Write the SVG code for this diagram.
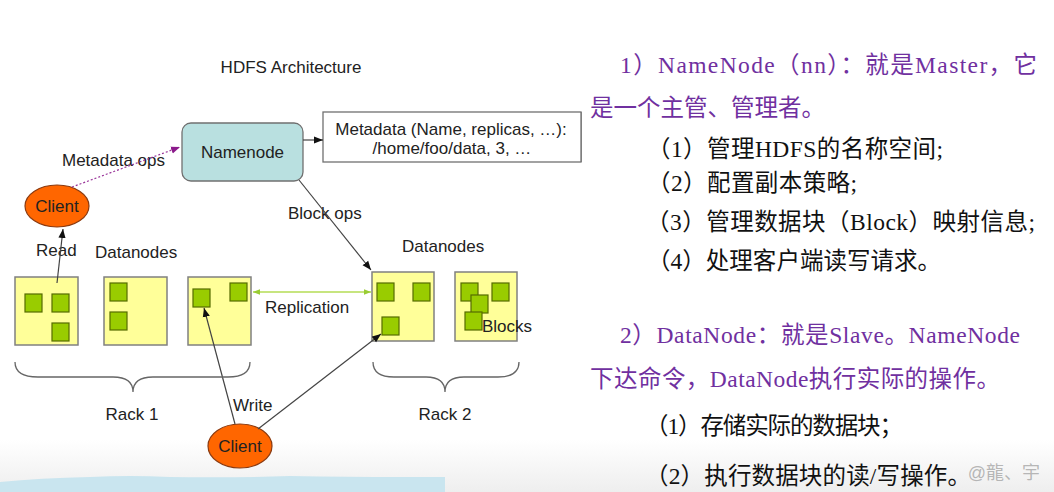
<svg xmlns="http://www.w3.org/2000/svg" width="1054" height="492" viewBox="0 0 1054 492">
<defs>
<style>
.lbl{font-family:"Liberation Sans",Arial,sans-serif;font-size:17px;fill:#222}
.ctr{text-anchor:middle}
.dn{fill:#ffff99;stroke:#808080;stroke-width:1.5}
.blk{fill:#99cc00;stroke:#556b00;stroke-width:1.2}
.conn{fill:none;stroke:#444;stroke-width:1.2}
.brace{fill:none;stroke:#666;stroke-width:1.3}
.cl{fill:#ff6600;stroke:#8a3a10;stroke-width:1.2}
.zh{font-family:"Liberation Serif","Noto Sans CJK SC",serif;font-size:23.5px}
.pu{fill:#7030a0}
.bk{fill:#111}
</style>
<marker id="ah" viewBox="0 0 10 10" refX="10" refY="5" markerWidth="9" markerHeight="9" markerUnits="userSpaceOnUse" orient="auto"><path d="M0,1 L10,5 L0,9 z" fill="#111"/></marker>
<marker id="ahp" viewBox="0 0 10 10" refX="10" refY="5" markerWidth="9" markerHeight="9" markerUnits="userSpaceOnUse" orient="auto"><path d="M0,1 L10,5 L0,9 z" fill="#8b1a8b"/></marker>
<marker id="ahg" viewBox="0 0 10 10" refX="10" refY="5" markerWidth="7" markerHeight="7" markerUnits="userSpaceOnUse" orient="auto-start-reverse"><path d="M0,1 L10,5 L0,9 z" fill="#99cc33"/></marker>
<linearGradient id="bg" x1="0" y1="0" x2="0" y2="1"><stop offset="0" stop-color="#ffffff"/><stop offset="1" stop-color="#eeeeee"/></linearGradient>
</defs>
<rect width="1054" height="492" fill="#fff"/>
<rect x="0" y="440" width="1054" height="52" fill="url(#bg)"/>
<path d="M0,482 Q40,478 90,477 Q130,475 170,477 Q230,478 290,476 Q350,477 400,477 L445,477 L445,492 L0,492 z" fill="#c9e5ef"/>
<rect x="580" y="112" width="2" height="50" fill="#9a9a9a"/>

<text class="lbl ctr" x="291" y="73">HDFS Architecture</text>

<g id="namenode">
<rect x="182" y="123" width="121" height="58" rx="9" fill="#b9e0e0" stroke="#707070" stroke-width="1.3"/>
<text class="lbl ctr" x="242.5" y="158">Namenode</text>
</g>
<g id="metadata">
<rect x="323" y="112" width="258" height="50" fill="#fff" stroke="#707070" stroke-width="1.3"/>
<text class="lbl ctr" x="451" y="135">Metadata (Name, replicas, …):</text>
<text class="lbl ctr" x="452" y="154">/home/foo/data, 3, …</text>
</g>
<g id="client-read">
<ellipse class="cl" cx="57" cy="206" rx="32" ry="21"/>
<text class="lbl ctr" x="57" y="212">Client</text>
</g>
<g id="client-write">
<ellipse class="cl" cx="240" cy="446" rx="32" ry="22"/>
<text class="lbl ctr" x="240" y="452">Client</text>
</g>

<g id="labels">
<text class="lbl" x="62" y="166">Metadata ops</text>
<text class="lbl" x="288" y="219">Block ops</text>
<text class="lbl" x="36" y="256">Read</text>
<text class="lbl" x="95" y="258">Datanodes</text>
<text class="lbl" x="402" y="252">Datanodes</text>
<text class="lbl" x="265" y="313">Replication</text>
<text class="lbl" x="233" y="411">Write</text>
<text class="lbl ctr" x="132" y="420">Rack 1</text>
<text class="lbl ctr" x="445" y="420">Rack 2</text>
</g>

<g id="datanode-1">
<rect class="dn" x="15" y="277" width="63" height="68"/>
<rect class="blk" x="25" y="294" width="17" height="18"/>
<rect class="blk" x="52" y="294" width="17" height="18"/>
<rect class="blk" x="52" y="323" width="17" height="18"/>
</g>
<g id="datanode-2">
<rect class="dn" x="104" y="277" width="63" height="68"/>
<rect class="blk" x="110" y="283" width="17" height="18"/>
<rect class="blk" x="110" y="312" width="17" height="18"/>
</g>
<g id="datanode-3">
<rect class="dn" x="188" y="277" width="63" height="68"/>
<rect class="blk" x="193" y="289" width="17" height="18"/>
<rect class="blk" x="230" y="283" width="17" height="18"/>
</g>
<g id="datanode-4">
<rect class="dn" x="372" y="272" width="62" height="69"/>
<rect class="blk" x="377" y="283" width="17" height="18"/>
<rect class="blk" x="413" y="283" width="17" height="18"/>
<rect class="blk" x="382" y="317" width="17" height="18"/>
</g>
<g id="datanode-5">
<rect class="dn" x="455" y="272" width="62" height="69"/>
<rect class="blk" x="461" y="283" width="17" height="18"/>
<rect class="blk" x="492" y="283" width="17" height="18"/>
<rect class="blk" x="471" y="295" width="17" height="18"/>
<rect class="blk" x="465" y="312" width="17" height="18"/>
<text class="lbl" x="482" y="332">Blocks</text>
</g>

<g id="connectors">
<line class="conn" x1="303" y1="140" x2="323" y2="140" marker-end="url(#ah)"/>
<line x1="72" y1="187" x2="180" y2="147" fill="none" stroke="#993399" stroke-width="1.2" stroke-dasharray="2,2" marker-end="url(#ahp)"/>
<line class="conn" x1="57" y1="283" x2="63" y2="229" marker-end="url(#ah)"/>
<line class="conn" x1="299" y1="180" x2="371" y2="270" marker-end="url(#ah)"/>
<line x1="253" y1="292" x2="371" y2="292" stroke="#b5dd55" stroke-width="1.5" marker-start="url(#ahg)" marker-end="url(#ahg)"/>
<line class="conn" x1="235" y1="424" x2="204" y2="308" marker-end="url(#ah)"/>
<line class="conn" x1="258" y1="429" x2="381" y2="334" marker-end="url(#ah)"/>
</g>

<g id="rack-braces">
<path class="brace" d="M15,362 Q15,377 38,377 L113,377 Q133,377 133,392 Q133,377 153,377 L228,377 Q250,377 250,362"/>
<path class="brace" d="M373,362 Q373,377 394,377 L426,377 Q445,377 445,392 Q445,377 464,377 L498,377 Q519,377 519,362"/>
</g>

<g id="notes">
<text class="zh pu" x="620" y="73" textLength="417" lengthAdjust="spacing">1）NameNode（nn）：就是Master，它</text>
<text class="zh pu" x="590" y="116">是一个主管、管理者。</text>
<text class="zh bk" x="647" y="157" textLength="296" lengthAdjust="spacing">（1）管理HDFS的名称空间;</text>
<text class="zh bk" x="647" y="191" textLength="210" lengthAdjust="spacing">（2）配置副本策略;</text>
<text class="zh bk" x="646" y="230" textLength="389" lengthAdjust="spacing">（3）管理数据块（Block）映射信息;</text>
<text class="zh bk" x="647" y="269" textLength="294" lengthAdjust="spacing">（4）处理客户端读写请求。</text>
<text class="zh pu" x="620" y="343" textLength="400" lengthAdjust="spacing">2）DataNode：就是Slave。NameNode</text>
<text class="zh pu" x="590" y="387" textLength="410" lengthAdjust="spacing">下达命令，DataNode执行实际的操作。</text>
<text class="zh bk" x="645" y="434" textLength="258" lengthAdjust="spacing">（1）存储实际的数据块；</text>
<text class="zh bk" x="645" y="484" textLength="326" lengthAdjust="spacing">（2）执行数据块的读/写操作。</text>
</g>
<text x="1040" y="479" text-anchor="end" font-family="'Liberation Sans','Noto Sans CJK SC',sans-serif" font-size="18" fill="#9a9a9a" fill-opacity="0.7">@龍、宇</text>
</svg>
